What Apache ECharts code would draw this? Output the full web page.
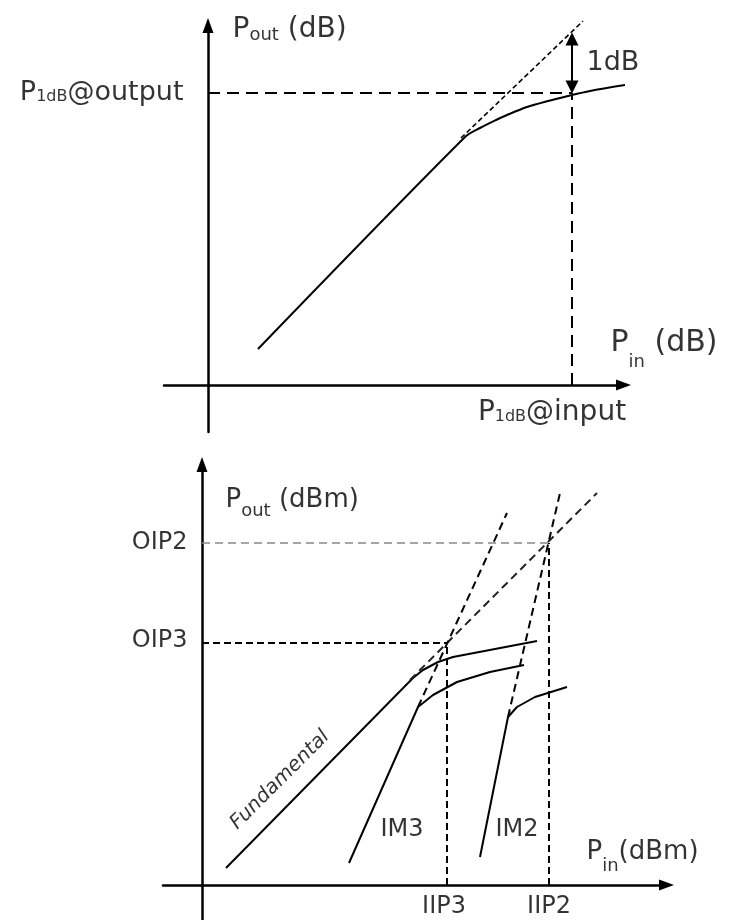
<!DOCTYPE html>
<html><head><meta charset="utf-8">
<script src="https://cdn.jsdelivr.net/npm/echarts@6/dist/echarts.min.js"></script>
<style>html,body{margin:0;padding:0;background:#fff}#c{width:736px;height:920px}</style>
</head><body><div id="c"></div>
<script>
// ---------- Top panel: 1 dB compression point (relative dB units) ----------
const topFundamental = [[5.0,3.6],[25.7,24.8],[27.2,25.7],[28.8,26.5],[29.9,27.0],[31.9,27.8],[34.0,28.4],[36.0,28.9],[38.2,29.4],[41.7,30.0]];
const topIdeal = [[25.3,24.7],[37.5,36.4]];
const p1dbIn = 36.4;
const p1dbOut = 29.2;
const idealAtP1dB = 35.2;
const topTexts = ['P{sub|out} (dB)', '1dB', 'P{sub|in} (dB)', 'P{s|1dB}@output', 'P{s|1dB}@input'];

// ---------- Bottom panel: intercept points (dBm units) ----------
const fundamental = [[2.4,1.7],[21.1,20.7],[22.1,21.5],[23.6,22.3],[25.1,22.8],[33.5,24.4]];
const fundamentalExt = [[20.8,20.5],[39.5,39.2]];
const im3 = [[14.7,2.2],[21.6,17.8],[23.1,19.0],[25.5,20.3],[28.8,21.3],[32.2,22.0]];
const im3Ext = [[21.6,17.8],[30.5,37.2]];
const im2 = [[27.8,2.8],[30.6,16.8],[31.5,17.8],[33.3,18.8],[36.5,19.8]];
const im2Ext = [[30.6,16.8],[35.8,39.2]];
const iip3 = 24.5, oip3 = 24.2, iip2 = 34.7, oip2 = 34.2;
const bottomXTicks = ['IIP3', 'IIP2'];
const bottomYTicks = ['OIP3', 'OIP2'];
const bottomTexts = ['P{sub|out} (dBm)', 'P{sub|in}(dBm)', 'IM3', 'IM2', 'Fundamental'];

const FONT = 'DejaVu Sans';
const black = '#000';

function lineS(data, xi, style, extra) {
  return Object.assign({
    type: 'line', xAxisIndex: xi, yAxisIndex: xi, data: data,
    showSymbol: false, symbol: 'none', clip: false, silent: true, animation: false,
    lineStyle: Object.assign({color: black, width: 2}, style)
  }, extra || {});
}
function annot(xi, items) {
  return {
    type: 'scatter', xAxisIndex: xi, yAxisIndex: xi, symbolSize: 1, clip: false,
    itemStyle: {color: 'rgba(0,0,0,0)'}, silent: true, animation: false, z: 5,
    data: items
  };
}
function txt(x, y, text, pos, size, extra) {
  return {value: [x, y], label: Object.assign({
    show: true, position: pos, distance: 0, color: black, fontFamily: FONT,
    fontSize: size, fontWeight: 'normal', formatter: text
  }, extra || {})};
}
function sub(size, pad) {
  return {fontSize: size, fontFamily: FONT, fontWeight: 'normal', color: black, padding: [pad, 0, 0, 0]};
}
function axis(gi, min, max) {
  return {
    type: 'value', gridIndex: gi, min: min, max: max,
    axisLine: {onZero: true, symbol: ['none', 'triangle'], symbolSize: [11, 15], lineStyle: {color: black, width: 2.5}},
    axisTick: {show: false}, splitLine: {show: false}, axisLabel: {show: false}
  };
}

const chart = echarts.init(document.getElementById('c'), null, {renderer: 'canvas'});
chart.setOption({
  backgroundColor: '#fff',
  animation: false,
  grid: [
    {left: 164, top: 25.5, width: 459.5, height: 406.5, containLabel: false, outerBoundsMode: 'none'},
    {left: 163, top: 464.5, width: 503.5, height: 455.5, containLabel: false, outerBoundsMode: 'none'}
  ],
  xAxis: [axis(0, -4.4, 41.55), axis(1, -3.9, 46.45)],
  yAxis: [axis(0, -4.7, 35.95), axis(1, -3.5, 42.05)],
  series: [
    // ----- top -----
    lineS(topFundamental, 0, {width: 2}, {smooth: 0.3}),
    lineS(topIdeal, 0, {width: 1.6, type: [5, 3]}),
    lineS([[0, p1dbOut], [p1dbIn, p1dbOut]], 0, {width: 2, type: [12, 7]}),
    lineS([[p1dbIn, 0], [p1dbIn, p1dbOut]], 0, {width: 2, type: [12, 7]}),
    {
      type: 'lines', coordinateSystem: 'cartesian2d', xAxisIndex: 0, yAxisIndex: 0,
      symbol: ['triangle', 'triangle'], symbolSize: 13, silent: true, animation: false,
      lineStyle: {color: black, width: 2, opacity: 1},
      data: [{coords: [[p1dbIn, p1dbOut + 0.6], [p1dbIn, idealAtP1dB - 0.6]]}]
    },
    annot(0, [
      txt(2.4, 35.5, topTexts[0], 'right', 28, {rich: {sub: sub(18, 10)}}),
      txt(37.8, 32.25, topTexts[1], 'right', 27),
      txt(40.2, 4.2, topTexts[2], 'right', 30, {rich: {sub: sub(18, 38)}}),
      txt(-2.4, p1dbOut, topTexts[3], 'left', 27, {rich: {s: sub(16, 7)}}),
      txt(p1dbIn - 2.0, -2.8, topTexts[4], 'inside', 28, {rich: {s: sub(16, 7)}})
    ]),
    // ----- bottom -----
    lineS(fundamental, 1, {width: 2}),
    lineS(im3, 1, {width: 2}),
    lineS(im2, 1, {width: 2}),
    lineS(fundamentalExt, 1, {width: 2, color: '#222', type: [8, 5]}),
    lineS(im3Ext, 1, {width: 2, type: [8, 5]}),
    lineS(im2Ext, 1, {width: 2, type: [8, 5]}),
    lineS([[0, oip3], [iip3, oip3]], 1, {width: 2, type: [7, 4]}),
    lineS([[iip3, 0], [iip3, oip3]], 1, {width: 2, type: [7, 4]}),
    lineS([[0, oip2], [iip2, oip2]], 1, {width: 1.5, color: '#888', type: [8, 5]}),
    lineS([[iip2, 0], [iip2, oip2]], 1, {width: 2, type: [7, 4]}),
    annot(1, [
      txt(2.3, 38.5, bottomTexts[0], 'right', 26, {rich: {sub: sub(18, 23)}}),
      txt(38.4, 3.25, bottomTexts[1], 'right', 26, {rich: {sub: sub(18, 27)}}),
      txt(20.0, 5.5, bottomTexts[2], 'inside', 24),
      txt(31.5, 5.5, bottomTexts[3], 'inside', 24),
      txt(7.8, 10.5, bottomTexts[4], 'inside', 20, {fontStyle: 'italic', rotate: 45}),
      txt(-1.4, oip2, bottomYTicks[1], 'left', 24),
      txt(-1.4, oip3 + 0.2, bottomYTicks[0], 'left', 24),
      txt(iip3 - 0.3, -2.2, bottomXTicks[0], 'inside', 24),
      txt(iip2, -2.2, bottomXTicks[1], 'inside', 24)
    ])
  ]
});
</script></body></html>
